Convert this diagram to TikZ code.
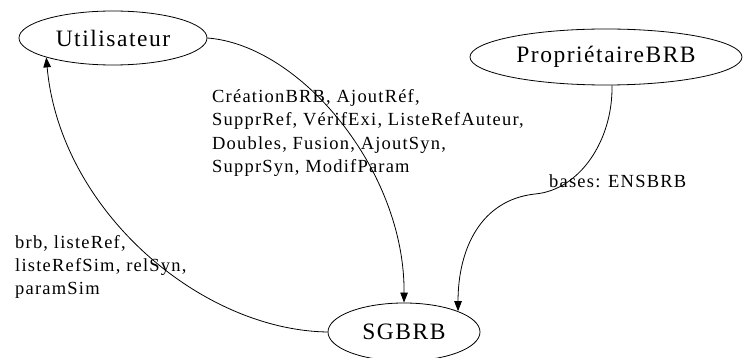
\documentclass[tikz,border=0pt]{standalone}
\usepackage{fontspec}
\usetikzlibrary{shapes.geometric,arrows.meta}
\newfontfamily\diagfont[LetterSpace=6.5]{Liberation Serif}
\tikzset{
  entity/.style={draw, ellipse, line width=0.8pt, inner sep=0pt,
    font=\diagfont\fontsize{23.5}{28}\selectfont},
  flowlabel/.style={inner sep=0pt, align=left, anchor=base west,
    font=\diagfont\fontsize{18.5}{23.5}\selectfont},
  flow/.style={line width=0.8pt, -{Triangle[length=10pt,width=7.5pt]}}
}
\begin{document}
\begin{tikzpicture}[x=1pt,y=-1pt]
  \useasboundingbox (0,0) rectangle (745,358);

  % actors and system
  \node[entity, minimum width=188pt, minimum height=54pt] (u) at (113,38) {Utilisateur};
  \node[entity, minimum width=272pt, minimum height=56pt] (p) at (606,57) {PropriétaireBRB};
  \node[entity, minimum width=152pt, minimum height=58pt] (s) at (404,332) {SGBRB};

  % message labels (anchored on the baseline of their last line)
  \node[flowlabel] (l1) at (212,173) {CréationBRB, AjoutRéf,\\SupprRef, VérifExi, ListeRefAuteur,\\Doubles, Fusion, AjoutSyn,\\SupprSyn, ModifParam};
  \node[flowlabel] (l2) at (549,188) {bases: ENSBRB};
  \node[flowlabel] (l3) at (15,295) {brb, listeRef,\\listeRefSim, relSyn,\\paramSim};

  \coordinate (bend) at (535,194);

  % flows
  \draw[flow] (u.east) .. controls (300,45) and (405,170) .. (s.north);
  \draw[flow] (s.west) .. controls (200,330) and (60,210) .. (u.south west);
  \draw[flow] ([xshift=6pt]p.south) .. controls (613,140) and (580,190) .. (bend)
     .. controls (480,200) and (458,250) .. (s.north east);
\end{tikzpicture}
\end{document}
